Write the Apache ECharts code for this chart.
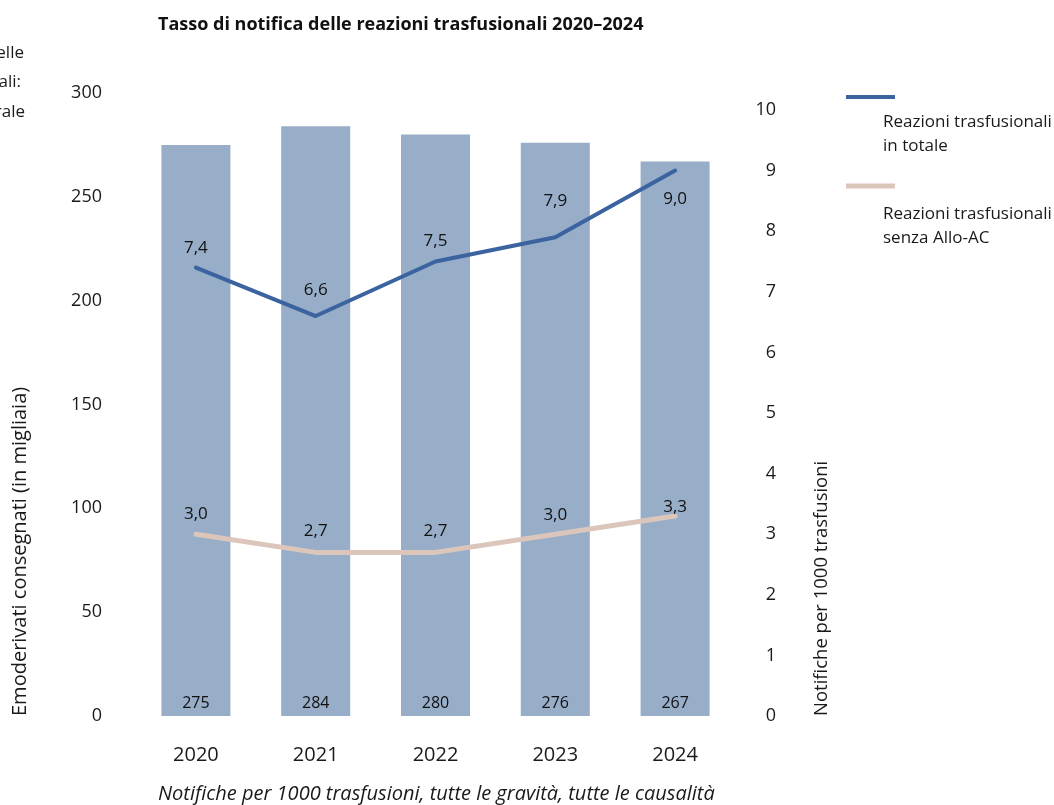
<!DOCTYPE html>
<html>
<head>
<meta charset="utf-8">
<title>Tasso di notifica delle reazioni trasfusionali 2020–2024</title>
<script src="https://cdn.jsdelivr.net/npm/echarts@6/dist/echarts.min.js"></script>
<style>
  html, body { margin: 0; padding: 0; background: #fff; }
  #chart { width: 1054px; height: 805px; }
</style>
</head>
<body>
<div id="chart"></div>
<script>
// Years shown on the category axis
const years = ['2020', '2021', '2022', '2023', '2024'];
// Blood products delivered (thousands) – bars, left axis
const emoderivati = [275, 284, 280, 276, 267];
// Reports per 1000 transfusions – lines, right axis
const reazioniTotale = [7.4, 6.6, 7.5, 7.9, 9.0];
const reazioniSenzaAlloAC = [3.0, 2.7, 2.7, 3.0, 3.3];
// Axis ranges
const leftAxis = { min: 0, max: 300, interval: 50 };
const rightAxis = { min: 0, max: 10, interval: 1 };

const FONT = '"Open Sans", "Noto Sans", sans-serif';
const BAR_COLOR = '#97adc8';
const BLUE = '#3a63a0';
const BEIGE = '#dcc6bb';

// hand-placed label nudges (px, upward positive)
const totaleLabelLift = [19, 26, 20, 36, -29];
const senzaLabelLift = [20, 21, 21, 19, 9];

const fmt = v => v.toFixed(1).replace('.', ',');

function lineData(values, lifts) {
  return values.map((v, i) => ({
    value: v,
    label: { offset: [0, -lifts[i]] }
  }));
}

const chart = echarts.init(document.getElementById('chart'), null, { renderer: 'canvas' });

chart.setOption({
  backgroundColor: '#ffffff',
  animation: false,
  textStyle: { fontFamily: FONT },
  grid: [
    { left: 136, right: 319, top: 93, bottom: 89 },
    { left: 136, right: 319, top: 110, bottom: 89 }
  ],
  xAxis: [
    {
      type: 'category', gridIndex: 0, data: years,
      axisLine: { show: false }, axisTick: { show: false },
      axisLabel: { color: '#1a1a1a', fontSize: 20, fontFamily: FONT, margin: 29 }
    },
    {
      type: 'category', gridIndex: 1, data: years, show: false
    }
  ],
  yAxis: [
    {
      type: 'value', gridIndex: 0,
      min: leftAxis.min, max: leftAxis.max, interval: leftAxis.interval,
      splitLine: { show: false }, axisLine: { show: false }, axisTick: { show: false },
      axisLabel: { color: '#1a1a1a', fontSize: 18, fontFamily: FONT, margin: 34 }
    },
    {
      type: 'value', gridIndex: 1, position: 'right',
      min: rightAxis.min, max: rightAxis.max, interval: rightAxis.interval,
      splitLine: { show: false }, axisLine: { show: false }, axisTick: { show: false },
      axisLabel: { color: '#1a1a1a', fontSize: 18, fontFamily: FONT, margin: 41, align: 'right' }
    }
  ],
  series: [
    {
      name: 'Emoderivati consegnati',
      type: 'bar', xAxisIndex: 0, yAxisIndex: 0,
      data: emoderivati,
      barWidth: 69,
      itemStyle: { color: BAR_COLOR },
      label: {
        show: true, position: 'insideBottom', distance: 5,
        color: '#111', fontSize: 16, fontFamily: FONT
      }
    },
    {
      name: 'Reazioni trasfusionali senza Allo-AC',
      type: 'line', xAxisIndex: 1, yAxisIndex: 1,
      data: lineData(reazioniSenzaAlloAC, senzaLabelLift),
      symbol: 'circle', symbolSize: 1, showSymbol: true,
      itemStyle: { color: BEIGE },
      lineStyle: { color: BEIGE, width: 5, cap: 'round', join: 'round' },
      label: {
        show: true, position: 'inside', color: '#111', fontSize: 17, fontFamily: FONT,
        formatter: p => fmt(p.value)
      }
    },
    {
      name: 'Reazioni trasfusionali in totale',
      type: 'line', xAxisIndex: 1, yAxisIndex: 1,
      data: lineData(reazioniTotale, totaleLabelLift),
      symbol: 'circle', symbolSize: 1, showSymbol: true,
      itemStyle: { color: BLUE },
      lineStyle: { color: BLUE, width: 4, cap: 'round', join: 'round' },
      label: {
        show: true, position: 'inside', color: '#111', fontSize: 17, fontFamily: FONT,
        formatter: p => fmt(p.value)
      }
    }
  ],
  graphic: [
    // title
    {
      type: 'text', x: 158, y: 25,
      style: { text: 'Tasso di notifica delle reazioni trasfusionali 2020–2024',
               font: 'bold 18px ' + FONT, fill: '#111', verticalAlign: 'middle' }
    },
    // note under the axis
    {
      type: 'text', x: 158, y: 794,
      style: { text: 'Notifiche per 1000 trasfusioni, tutte le gravità, tutte le causalità',
               font: 'italic 20px ' + FONT, fill: '#1a1a1a', verticalAlign: 'middle' }
    },
    // side text running off the left edge
    {
      type: 'text', x: 24, y: 53,
      style: { text: 'Numero delle', font: '17px ' + FONT, fill: '#1a1a1a',
               align: 'right', verticalAlign: 'middle' }
    },
    {
      type: 'text', x: 21, y: 82,
      style: { text: 'reazioni trasfusionali:', font: '17px ' + FONT, fill: '#1a1a1a',
               align: 'right', verticalAlign: 'middle' }
    },
    {
      type: 'text', x: 25, y: 112,
      style: { text: 'in generale', font: '17px ' + FONT, fill: '#1a1a1a',
               align: 'right', verticalAlign: 'middle' }
    },
    // axis titles
    {
      type: 'text', x: 20, y: 716, rotation: Math.PI / 2,
      style: { text: 'Emoderivati consegnati (in migliaia)', font: '20px ' + FONT,
               fill: '#1a1a1a', align: 'left', verticalAlign: 'middle' }
    },
    {
      type: 'text', x: 822, y: 716, rotation: Math.PI / 2,
      style: { text: 'Notifiche per 1000 trasfusioni', font: '18.5px ' + FONT,
               fill: '#1a1a1a', align: 'left', verticalAlign: 'middle' }
    },
    // legend
    {
      type: 'line', shape: { x1: 846, y1: 97, x2: 895, y2: 97 },
      style: { stroke: BLUE, lineWidth: 4 }
    },
    {
      type: 'text', x: 883, y: 134,
      style: { text: 'Reazioni trasfusionali\nin totale', font: '17px ' + FONT,
               lineHeight: 24, fill: '#1a1a1a', align: 'left', verticalAlign: 'middle' }
    },
    {
      type: 'line', shape: { x1: 846, y1: 186, x2: 895, y2: 186 },
      style: { stroke: BEIGE, lineWidth: 5 }
    },
    {
      type: 'text', x: 883, y: 226,
      style: { text: 'Reazioni trasfusionali\nsenza Allo-AC', font: '17px ' + FONT,
               lineHeight: 24, fill: '#1a1a1a', align: 'left', verticalAlign: 'middle' }
    }
  ]
});
</script>
</body>
</html>
